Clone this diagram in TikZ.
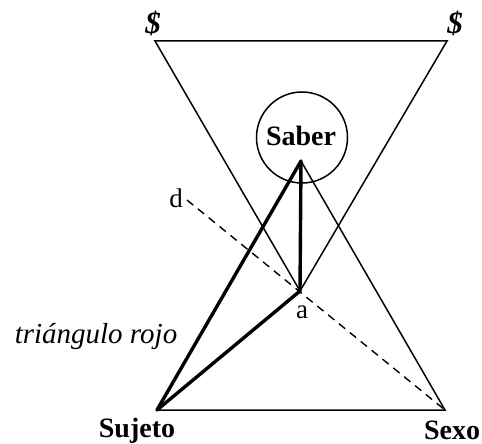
\documentclass[tikz,border=0pt]{standalone}
\usepackage{fontspec}
\setmainfont{Liberation Serif}
\begin{document}
\begin{tikzpicture}[x=1pt,y=-1pt,
  thin line/.style={line width=1.5pt, line join=miter},
  thick line/.style={line width=3.4pt, line cap=round, line join=round},
  dash line/.style={line width=1.4pt, dash pattern=on 8pt off 6pt},
  lbl/.style={inner sep=0pt, anchor=base, font=\fontsize{27}{30}\selectfont},
  blbl/.style={lbl, font=\fontsize{28}{30}\selectfont\bfseries},
  ilbl/.style={lbl, font=\fontsize{29}{32}\selectfont\itshape},
  sbar/.style={inner sep=0pt, anchor=center, font=\fontsize{31}{32}\selectfont\bfseries\itshape}]
\useasboundingbox (0,0) rectangle (482,444);
% vertices
\coordinate (tl) at (155,41);
\coordinate (tr) at (447,41);
\coordinate (a) at (300,291);
\coordinate (sab) at (301,161);
\coordinate (suj) at (157,410);
\coordinate (sex) at (445,410);
\coordinate (dend) at (187,200);
% circle
\node[draw, circle, line width=1.5pt, minimum size=91pt, inner sep=0pt] (circ) at (302,137.5) {};
% inverted triangle
\draw[thin line] (tl) -- (tr) -- (a) -- cycle;
% upright triangle
\draw[thin line] (sab) -- (sex) -- (suj);
\draw[thick line] (sab) -- (suj);
\draw[thick line] (sab) -- (a) -- (suj);
% dashed line
\draw[dash line] (dend) -- (sex);
% labels
\node[sbar] (s1) at (153,23) {\$};
\node[sbar] (s2) at (455,23) {\$};
\node[blbl] (saber) at (301,145) {Saber};
\node[blbl] (sujeto) at (137,437) {Sujeto};
\node[blbl] (sexo) at (452,439) {Sexo};
\node[lbl] (la) at (302,318) {a};
\node[lbl] (ld) at (176,207) {d};
\node[ilbl] (tri) at (96,343) {triángulo rojo};
\end{tikzpicture}
\end{document}
